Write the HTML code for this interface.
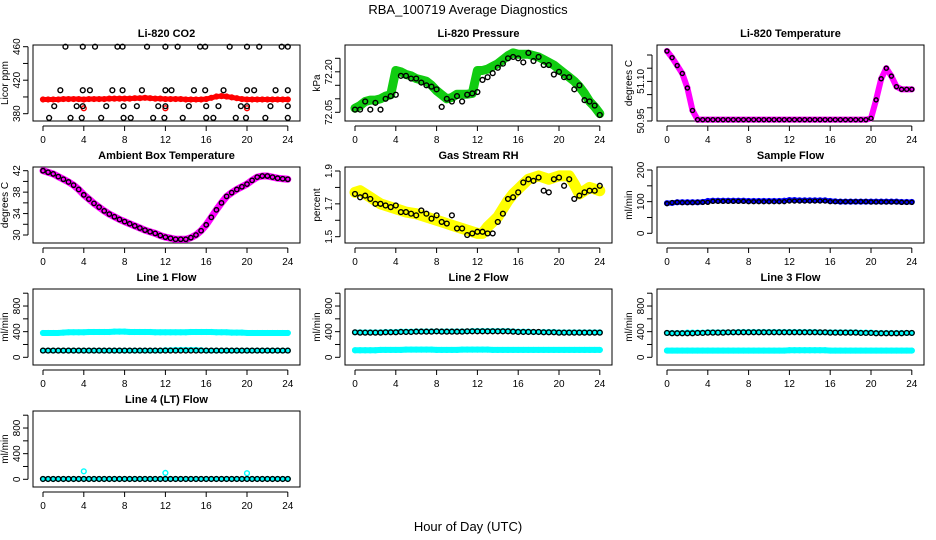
<!DOCTYPE html>
<html><head><meta charset="utf-8"><style>
html,body{margin:0;padding:0;background:#fff;}
svg{display:block;font-family:"Liberation Sans",Arial,sans-serif;}
</style></head><body>
<svg id="chart" width="936" height="540" viewBox="0 0 936 540" xmlns="http://www.w3.org/2000/svg">
<text x="468" y="14" text-anchor="middle" font-size="13">RBA_100719  Average Diagnostics</text>
<text x="468" y="531" text-anchor="middle" font-size="13">Hour of Day (UTC)</text>
</svg>
<script>
// ---- data ----
const xTicks = [0,4,8,12,16,20,24];
const halfHours = [0,0.5,1,1.5,2,2.5,3,3.5,4,4.5,5,5.5,6,6.5,7,7.5,8,8.5,9,9.5,10,10.5,11,11.5,12,12.5,13,13.5,14,14.5,15,15.5,16,16.5,17,17.5,18,18.5,19,19.5,20,20.5,21,21.5,22,22.5,23,23.5,24];

const co2Red = [397,397,397,397,397.5,397.5,397.5,397.5,397,397.5,397.5,397.5,397.5,398,398,398,398,398,398.5,398.5,399,398.5,398,398,397.5,397.5,397.5,397.5,397,397,397,397,397.5,399,400.5,401,400.5,399.5,398.5,397.5,397,397,397,397,397,397,397,397,397];
const co2BlackHour = [2.2,3.9,5.1,7.3,7.8,10.2,12.0,13.2,15.4,15.9,18.3,20.0,21.2,23.4,24.0, 1.7,3.9,4.6,6.8,7.8,9.7,12.0,12.6,14.8,15.9,17.7,20.0,20.7,22.8,24.0, 1.1,3.3,3.9,6.2,7.9,9.2,11.3,12.0,14.3,16.0,17.2,19.4,20.0,22.3,24.0, 0.6,2.7,3.8,5.7,7.9,8.6,10.8,11.9,13.7,16.0,16.7,18.9,19.9,21.8,24.0];
const co2BlackVal = [460,460,460,460,460,460,460,460,460,460,460,460,460,460,460, 408,408,408,408,408,408,408,408,408,408,408,408,408,408,408, 389,389,389,389,389,389,389,389,389,389,389,389,389,389,389, 375,375,375,375,375,375,375,375,375,375,375,375,375,375,375];
const co2RedOutHour = [4,12,20];
const co2RedOutVal = [386.5,386.5,386.5];

const pressGreen = [72.065,72.075,72.09,72.095,72.095,72.1,72.11,72.115,72.205,72.2,72.19,72.185,72.175,72.17,72.165,72.15,72.13,72.115,72.1,72.105,72.117,72.117,72.117,72.12,72.205,72.205,72.21,72.22,72.23,72.245,72.26,72.27,72.265,72.265,72.265,72.26,72.255,72.245,72.235,72.225,72.21,72.195,72.18,72.165,72.145,72.12,72.09,72.07,72.045];
const pressBlack = [72.06,72.06,72.09,72.06,72.085,72.06,72.1,72.11,72.115,72.185,72.185,72.175,72.175,72.16,72.15,72.145,72.135,72.07,72.1,72.09,72.11,72.09,72.115,72.12,72.125,72.17,72.18,72.195,72.215,72.23,72.25,72.255,72.25,72.235,72.27,72.24,72.255,72.225,72.225,72.19,72.2,72.18,72.18,72.135,72.15,72.095,72.09,72.075,72.04];

const tempPink = [51.215,51.19,51.16,51.13,51.075,50.99,50.955,50.955,50.955,50.955,50.955,50.955,50.955,50.955,50.955,50.955,50.955,50.955,50.955,50.955,50.955,50.955,50.955,50.955,50.955,50.955,50.955,50.955,50.955,50.955,50.955,50.955,50.955,50.955,50.955,50.955,50.955,50.955,50.955,50.955,50.96,51.03,51.11,51.15,51.12,51.08,51.07,51.07,51.07];

const ambient = [42,41.7,41.4,40.9,40.4,39.9,39.3,38.5,37.5,36.7,35.9,35.2,34.5,33.9,33.4,32.9,32.5,32.1,31.7,31.3,30.9,30.6,30.3,29.9,29.6,29.4,29.2,29.2,29.2,29.5,30,30.8,31.9,33.3,34.7,36,37.2,37.9,38.5,39,39.5,40.2,40.8,41,41,40.8,40.6,40.5,40.4];

const rhYellow = [1.77,1.78,1.76,1.74,1.72,1.70,1.69,1.68,1.67,1.66,1.65,1.645,1.64,1.63,1.62,1.61,1.60,1.59,1.58,1.57,1.56,1.55,1.54,1.53,1.52,1.52,1.56,1.59,1.62,1.67,1.72,1.76,1.79,1.82,1.85,1.86,1.87,1.86,1.85,1.86,1.87,1.87,1.87,1.82,1.76,1.78,1.80,1.79,1.78];
const rhBlack = [1.76,1.74,1.75,1.73,1.70,1.70,1.69,1.68,1.69,1.65,1.65,1.64,1.63,1.66,1.64,1.61,1.63,1.59,1.58,1.63,1.55,1.55,1.51,1.52,1.53,1.53,1.52,1.52,1.59,1.64,1.73,1.74,1.77,1.83,1.85,1.84,1.86,1.78,1.77,1.85,1.86,1.81,1.85,1.73,1.75,1.77,1.78,1.78,1.81];

const sampleBlue = [95,96,98,98,98,98,98,99,102,103,103,103,103,103,103,103,102,102,102,102,102,102,102,103,105,105,104,104,104,104,104,104,102,101,100,100,100,100,100,100,100,100,100,100,100,100,99,99,99];
const sampleBlack = [94,97,98,97,97,97,98,98,98,101,101,101,101,101,101,101,100,100,100,100,100,100,100,100,102,102,102,102,102,102,102,102,100,100,100,100,100,100,100,100,99,99,99,99,99,99,98,98,98];

const line1Upper = [380,380,380,380,385,390,390,390,390,395,395,395,395,395,400,400,400,395,395,395,395,395,390,390,390,390,390,390,390,395,395,395,395,395,390,390,390,385,385,385,380,380,380,380,380,380,380,380,380];
const line1Lower = [105,105,105,105,105,105,105,105,105,105,105,105,105,105,105,105,105,105,105,105,105,105,105,105,110,110,115,115,115,115,115,110,105,105,105,105,105,105,105,105,105,105,105,105,105,105,105,105,105];
const line1Black = [105,105,105,105,105,105,105,105,105,105,105,105,105,105,105,105,105,105,105,105,105,105,105,105,105,105,105,105,105,105,105,105,105,105,105,105,105,105,105,105,105,105,105,105,105,105,105,105,105];

const line2Upper = [390,390,390,390,390,390,395,395,395,400,400,400,405,405,405,405,405,405,405,405,405,405,405,410,410,410,410,410,410,410,410,405,400,400,400,395,395,395,395,395,390,390,390,390,390,390,390,390,390];
const line2Black = [390,385,385,385,385,385,390,390,390,395,395,395,400,400,400,400,405,400,400,400,400,400,405,405,405,405,405,405,405,405,405,400,395,395,395,395,395,390,390,390,385,385,385,385,385,385,385,385,385];
const line2Lower = [110,110,110,110,110,115,115,115,115,115,120,120,120,120,120,120,115,115,115,115,115,120,120,120,120,120,120,115,115,115,115,115,115,115,115,115,115,115,115,115,115,115,115,115,115,115,115,115,115];

const line3Upper = [380,380,380,380,385,385,385,385,390,390,390,390,390,390,395,395,395,395,395,395,395,395,395,395,395,395,395,395,395,395,390,390,390,390,390,390,390,390,385,385,385,380,380,380,380,380,380,380,380];
const line3Black = [380,375,375,375,375,375,380,380,385,385,385,385,390,390,390,390,390,390,390,390,390,390,390,390,390,390,390,390,390,390,390,390,385,385,385,385,385,385,380,380,380,375,375,375,375,375,375,380,380];
const line3Lower = [105,105,105,105,105,105,105,105,105,105,105,105,105,105,105,105,105,105,105,105,105,105,105,105,110,110,110,110,110,110,110,110,105,105,105,105,105,105,105,105,105,105,105,105,105,105,105,105,105];

const line4Cyan = [5,5,5,5,5,5,5,5,5,5,5,5,5,5,5,5,5,5,5,5,5,5,5,5,5,5,5,5,5,5,5,5,5,5,5,5,5,5,5,5,5,5,5,5,5,5,5,5,5];
const line4Black = [5,5,5,5,5,5,5,5,5,5,5,5,5,5,5,5,5,5,5,5,5,5,5,5,5,5,5,5,5,5,5,5,5,5,5,5,5,5,5,5,5,5,5,5,5,5,5,5,5];
const line4OutHour = [4,12,20];
const line4OutVal = [125,100,95];

// ---- layout ----
const NS = "http://www.w3.org/2000/svg";
const svg = document.getElementById('chart');
const colLeft = [33,345,657], rowTop = [45,167,289,411];
const BW = 267, BH = 76;
function mk(tag, attrs, parent){ const e=document.createElementNS(NS,tag); for(const k in attrs) e.setAttribute(k,attrs[k]); (parent||svg).appendChild(e); return e; }

function panel(cfg){
  const L = colLeft[cfg.col], T = rowTop[cfg.row];
  const g = mk('g',{});
  
  
  const xs = h => L + 10 + h*10.2;
  const ys = v => T + cfg.yTopOff + (cfg.yTop - v)/(cfg.yTop - cfg.yBot)*(cfg.yBotOff - cfg.yTopOff);
  const box = mk('rect',{x:L,y:T,width:BW,height:BH,fill:'none',stroke:'#000','stroke-width':1},g);
  
  
  const t = mk('text',{x:L+BW/2,y:T-8,'text-anchor':'middle','font-size':11,'font-weight':'bold'},g);
  t.textContent = cfg.title;
  
  
  // x axis
  mk('line',{x1:xs(0),x2:xs(24),y1:T+BH+5,y2:T+BH+5,stroke:'#000'},g);
  xTicks.forEach(h=>{
    mk('line',{x1:xs(h),x2:xs(h),y1:T+BH+5,y2:T+BH+10,stroke:'#000'},g);
    const tl = mk('text',{x:xs(h),y:T+BH+22,'text-anchor':'middle','font-size':10},g);
    tl.textContent = h;
    
    
  });
  // y axis
  const yv = cfg.yTicks;
  mk('line',{x1:L-5,x2:L-5,y1:ys(yv[0]),y2:ys(yv[yv.length-1]),stroke:'#000'},g);
  yv.forEach((v,i)=>{
    mk('line',{x1:L-10,x2:L-5,y1:ys(v),y2:ys(v),stroke:'#000'},g);
    if(cfg.yLabels[i]!==''){
      const yl = mk('text',{x:0,y:0,'text-anchor':'middle','font-size':10,transform:`translate(${L-13},${ys(v)}) rotate(-90)`},g);
      yl.textContent = cfg.yLabels[i];
      
      
    }
  });
  const yt = mk('text',{x:0,y:0,'text-anchor':'middle','font-size':10,transform:`translate(${L-25},${T+BH/2}) rotate(-90)`},g);
  yt.textContent = cfg.ylab;
  
  
  // series
  cfg.series.forEach(s=>{
    const sg = mk('g',{},g);
    
    
    if(s.band){
      const pts = s.x.map((h,i)=>xs(h)+','+ys(s.y[i])).join(' ');
      mk('polyline',{points:pts,fill:'none',stroke:s.color,'stroke-width':s.band,'stroke-linejoin':'round','stroke-linecap':'round'},sg);
    }
    s.x.forEach((h,i)=>{
      const c = mk('circle',{cx:xs(h),cy:ys(s.y[i]),r:s.r||2.4,fill:'none',stroke:s.color,'stroke-width':1.4},sg);
      
      
    });
  });
}

const flowTicks=[0,200,400,600,800,1000], flowLabels=['0','','400','','800',''];
function flowCfg(col,row,title,name,series){
  return {col,row,title,name,ylab:'ml/min',yTop:1000,yBot:0,yTopOff:4.2,yBotOff:68.3,yTicks:flowTicks,yLabels:flowLabels,series};
}

panel({col:0,row:0,name:'panel-co2',title:'Li-820 CO2',ylab:'Licor ppm',yTop:460,yBot:380,yTopOff:1.7,yBotOff:68.7,
  yTicks:[380,400,420,440,460],yLabels:['380','','420','','460'],
  series:[{name:'co2-series',x:halfHours,y:co2Red,color:'#f00',band:5},
          {name:'co2-red-outliers',x:co2RedOutHour,y:co2RedOutVal,color:'#f00'},
          {name:'co2-black-points',x:co2BlackHour,y:co2BlackVal,color:'#000'}]});
panel({col:1,row:0,name:'panel-pressure',title:'Li-820 Pressure',ylab:'kPa',yTop:72.25,yBot:72.05,yTopOff:13.3,yBotOff:67.3,
  yTicks:[72.05,72.10,72.15,72.20,72.25],yLabels:['72.05','','','72.20',''],
  series:[{name:'pressure-series',x:halfHours,y:pressGreen,color:'#1c1',band:9},
          {name:'pressure-black-points',x:halfHours,y:pressBlack,color:'#000'}]});
panel({col:2,row:0,name:'panel-li820-temp',title:'Li-820 Temperature',ylab:'degrees C',yTop:51.20,yBot:50.95,yTopOff:10,yBotOff:76,
  yTicks:[50.95,51.00,51.05,51.10,51.15,51.20],yLabels:['50.95','','','51.10','',''],
  series:[{name:'li820-temp-series',x:halfHours,y:tempPink,color:'#f0f',band:6},
          {name:'li820-temp-black-points',x:halfHours,y:tempPink,color:'#000',r:2}]});
panel({col:0,row:1,name:'panel-ambient-temp',title:'Ambient Box Temperature',ylab:'degrees C',yTop:42,yBot:30,yTopOff:3.7,yBotOff:68,
  yTicks:[30,32,34,36,38,40,42],yLabels:['30','','34','','38','','42'],
  series:[{name:'ambient-series',x:halfHours,y:ambient,color:'#f0f',band:7},
          {name:'ambient-black-points',x:halfHours,y:ambient,color:'#000',r:2.2}]});
panel({col:1,row:1,name:'panel-rh',title:'Gas Stream RH',ylab:'percent',yTop:1.9,yBot:1.5,yTopOff:4,yBotOff:69.7,
  yTicks:[1.5,1.6,1.7,1.8,1.9],yLabels:['1.5','','1.7','','1.9'],
  series:[{name:'rh-series',x:halfHours,y:rhYellow,color:'#ff0',band:11},
          {name:'rh-black-points',x:halfHours,y:rhBlack,color:'#000'}]});
panel({col:2,row:1,name:'panel-sample-flow',title:'Sample Flow',ylab:'ml/min',yTop:200,yBot:0,yTopOff:3,yBotOff:66.3,
  yTicks:[0,50,100,150,200],yLabels:['0','','100','','200'],
  series:[{name:'sample-flow-series',x:halfHours,y:sampleBlue,color:'#00f',band:5},
          {name:'sample-flow-black-points',x:halfHours,y:sampleBlack,color:'#000',r:2}]});
panel(flowCfg(0,2,'Line 1 Flow','panel-line1-flow',[
  {name:'line1-upper',x:halfHours,y:line1Upper,color:'#0ff',band:6},
  {name:'line1-lower',x:halfHours,y:line1Lower,color:'#0ff',band:5},
  {name:'line1-black',x:halfHours,y:line1Black,color:'#000'}]));
panel(flowCfg(1,2,'Line 2 Flow','panel-line2-flow',[
  {name:'line2-upper',x:halfHours,y:line2Upper,color:'#0ff',band:5},
  {name:'line2-lower',x:halfHours,y:line2Lower,color:'#0ff',band:6},
  {name:'line2-black',x:halfHours,y:line2Black,color:'#000'}]));
panel(flowCfg(2,2,'Line 3 Flow','panel-line3-flow',[
  {name:'line3-upper',x:halfHours,y:line3Upper,color:'#0ff',band:5},
  {name:'line3-lower',x:halfHours,y:line3Lower,color:'#0ff',band:6},
  {name:'line3-black',x:halfHours,y:line3Black,color:'#000'}]));
panel(flowCfg(0,3,'Line 4 (LT) Flow','panel-line4-flow',[
  {name:'line4-cyan',x:halfHours,y:line4Cyan,color:'#0ff',band:4},
  {name:'line4-outliers',x:line4OutHour,y:line4OutVal,color:'#0ff'},
  {name:'line4-black',x:halfHours,y:line4Black,color:'#000'}]));
</script>
</body></html>
